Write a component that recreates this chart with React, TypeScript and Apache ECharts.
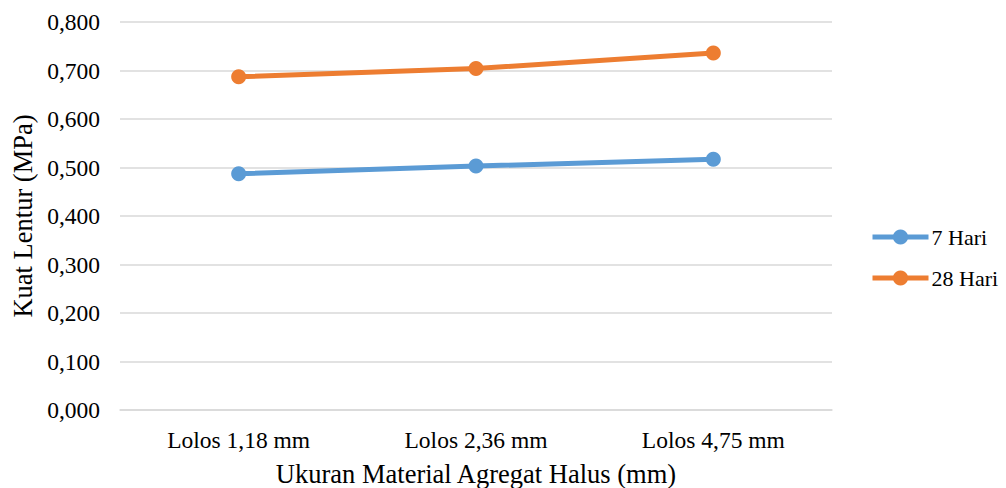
import React, { useEffect, useRef } from "react";
import * as echarts from "echarts";

const categories = ["Lolos 1,18 mm", "Lolos 2,36 mm", "Lolos 4,75 mm"];
const hari7 = [0.487, 0.503, 0.517];
const hari28 = [0.687, 0.704, 0.736];
const seriesNames = ["7 Hari", "28 Hari"];
const xTitle = "Ukuran Material Agregat Halus (mm)";
const yTitle = "Kuat Lentur (MPa)";

const FONT = "'Liberation Serif', 'Times New Roman', serif";

export default function App() {
  const ref = useRef<HTMLDivElement>(null);
  useEffect(() => {
    document.body.style.margin = "0";
    const chart = echarts.init(ref.current!, null, { renderer: "svg" });
    chart.setOption({
      animation: false,
      backgroundColor: "#ffffff",
      textStyle: { fontFamily: FONT, color: "#000" },
      grid: { left: 120, right: 174, top: 22, bottom: 78, containLabel: false, outerBoundsMode: "none" },
      legend: {
        orient: "vertical",
        left: 865,
        top: 221,
        itemWidth: 56,
        itemHeight: 19,
        itemGap: 19,
        lineStyle: { width: 5 },
        textStyle: { fontFamily: FONT, fontSize: 22, color: "#000", padding: [0, 0, 0, -2] },
        data: seriesNames,
      },
      xAxis: {
        type: "category",
        data: categories,
        boundaryGap: true,
        axisLine: { show: true, lineStyle: { color: "#D9D9D9", width: 1.5 } },
        axisTick: { show: false },
        axisLabel: { fontFamily: FONT, fontSize: 23.5, color: "#000", margin: 18 },
        name: xTitle,
        nameLocation: "middle",
        nameGap: 64,
        nameTextStyle: { fontFamily: FONT, fontSize: 26.5, color: "#000", verticalAlign: "middle" },
      },
      yAxis: {
        type: "value",
        min: 0,
        max: 0.8,
        interval: 0.1,
        axisLine: { show: false },
        axisTick: { show: false },
        splitLine: { lineStyle: { color: "#D9D9D9", width: 1.5 } },
        axisLabel: {
          fontFamily: FONT,
          fontSize: 23.5,
          color: "#000",
          margin: 20,
          formatter: (v: number) => v.toFixed(3).replace(".", ","),
        },
        name: yTitle,
        nameLocation: "middle",
        nameGap: 97,
        nameTextStyle: { fontFamily: FONT, fontSize: 26.5, color: "#000", verticalAlign: "middle" },
      },
      series: [
        {
          name: seriesNames[0],
          type: "line",
          data: hari7,
          symbol: "circle",
          symbolSize: 15,
          color: "#5B9BD5",
          lineStyle: { width: 5, color: "#5B9BD5" },
          itemStyle: { color: "#5B9BD5" },
        },
        {
          name: seriesNames[1],
          type: "line",
          data: hari28,
          symbol: "circle",
          symbolSize: 15,
          color: "#ED7D31",
          lineStyle: { width: 5, color: "#ED7D31" },
          itemStyle: { color: "#ED7D31" },
        },
      ],
    });
    return () => chart.dispose();
  }, []);
  return (
    <div
      ref={ref}
      style={{ position: "fixed", left: 0, top: 0, width: 1006, height: 488 }}
    />
  );
}
